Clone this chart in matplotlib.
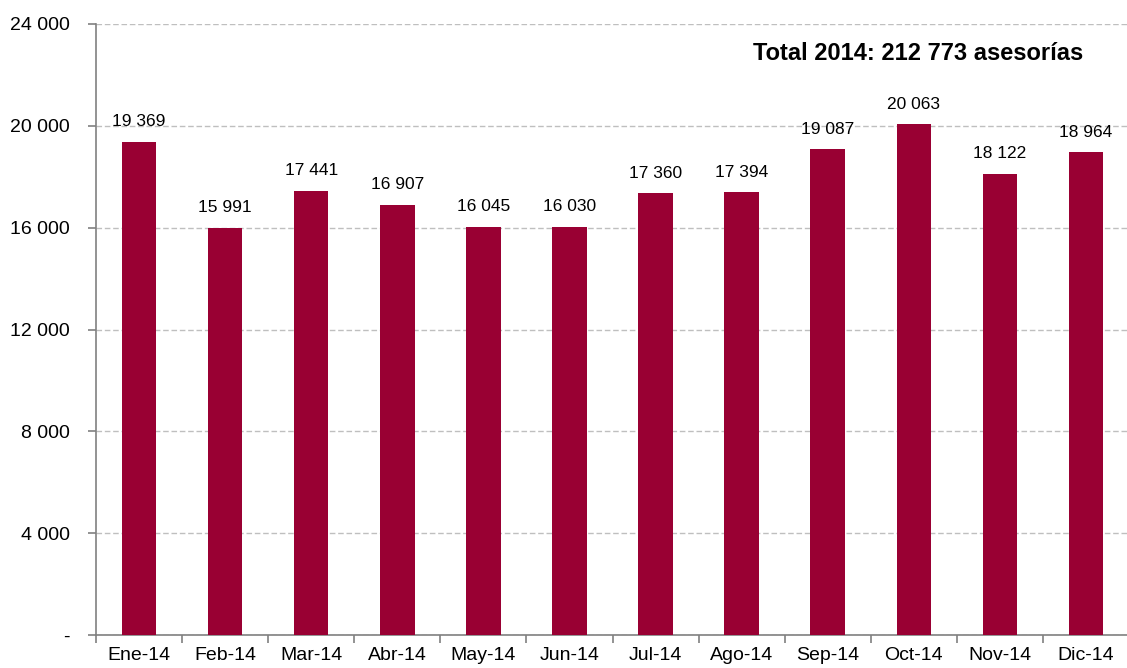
import matplotlib
matplotlib.use("Agg")
import matplotlib.pyplot as plt
from matplotlib.ticker import FixedLocator

months = ["Ene-14", "Feb-14", "Mar-14", "Abr-14", "May-14", "Jun-14",
          "Jul-14", "Ago-14", "Sep-14", "Oct-14", "Nov-14", "Dic-14"]
asesorias = [19369, 15991, 17441, 16907, 16045, 16030,
             17360, 17394, 19087, 20063, 18122, 18964]
yticks = [0, 4000, 8000, 12000, 16000, 20000, 24000]
ytick_labels = ["-", "4 000", "8 000", "12 000", "16 000", "20 000", "24 000"]
total_text = "Total 2014: 212 773 asesorías"

plt.rcParams["font.family"] = ["Liberation Sans", "DejaVu Sans"]

fig = plt.figure(figsize=(11.27, 6.68), dpi=100)
ax = fig.add_axes([96 / 1127, 33 / 668, 1033 / 1127, 611 / 668])

x = list(range(len(months)))
ax.bar(x, asesorias, width=0.4, color="#990033", zorder=3)

# etiquetas de valor sobre cada barra
for xi, v in zip(x, asesorias):
    label = f"{v:,}".replace(",", " ")
    ax.annotate(label, (xi, v), xytext=(0, 9), textcoords="offset points",
                ha="center", va="bottom", fontsize=12.5, color="#000000")

ax.set_xlim(-0.5, len(months) - 0.5)
ax.set_ylim(0, 24000)
ax.set_yticks(yticks)
ax.set_yticklabels(ytick_labels, fontsize=14)
ax.set_xticks(x)
ax.set_xticklabels(months, fontsize=14)
ax.tick_params(axis="x", length=0, pad=9)
ax.xaxis.set_minor_locator(FixedLocator([i - 0.5 for i in range(len(months) + 1)]))
ax.tick_params(axis="x", which="minor", length=6, color="#808080", width=1.2)
ax.tick_params(axis="y", length=6, color="#808080", width=1.2, pad=13)

ax.yaxis.grid(True, linestyle=(0, (4, 2)), color="#BFBFBF", linewidth=1, zorder=0)
for s in ["top", "right"]:
    ax.spines[s].set_visible(False)
for s in ["left", "bottom"]:
    ax.spines[s].set_color("#808080")
    ax.spines[s].set_linewidth(1.2)

fig.text(1083 / 1127, 1 - 53 / 668, total_text, ha="right", va="center",
         fontsize=17, fontweight="bold")

fig.savefig("out.png", dpi=100, facecolor="white")
